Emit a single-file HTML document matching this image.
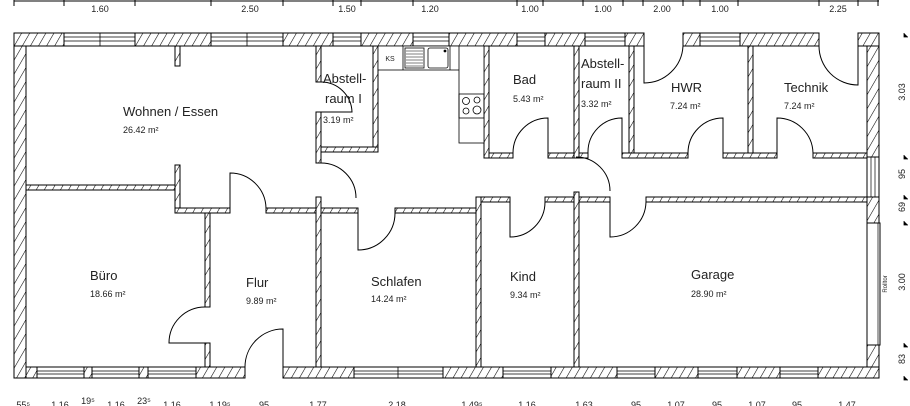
<!DOCTYPE html>
<html><head><meta charset="utf-8"><style>
html,body{margin:0;padding:0;background:#fff;}
svg{display:block;font-family:"Liberation Sans",Arial,sans-serif;}
.h{fill:url(#hat);stroke:#000;stroke-width:1;}
.w{fill:#fff;stroke:#000;stroke-width:1;}
.d{fill:none;stroke:#000;stroke-width:1;}
.t{font-size:13px;fill:#222;}
.a{font-size:9px;fill:#222;}
.s{font-size:9px;fill:#222;}
</style></head><body>
<svg width="910" height="406" viewBox="0 0 910 406" xmlns="http://www.w3.org/2000/svg">
<defs>
<pattern id="hat" patternUnits="userSpaceOnUse" width="7" height="7" patternTransform="rotate(30)">
<rect width="7" height="7" fill="#fff"/>
<line x1="0" y1="0" x2="0" y2="7" stroke="#000" stroke-width="1.1"/>
</pattern>
</defs>

<!-- top dimension line -->
<g stroke="#000" stroke-width="1">
<line x1="14" y1="1" x2="879" y2="1"/>
<line x1="14" y1="0" x2="14" y2="6"/><line x1="64" y1="0" x2="64" y2="6"/><line x1="135" y1="0" x2="135" y2="6"/><line x1="211" y1="0" x2="211" y2="6"/><line x1="283" y1="0" x2="283" y2="6"/><line x1="333" y1="0" x2="333" y2="6"/><line x1="361" y1="0" x2="361" y2="6"/><line x1="413" y1="0" x2="413" y2="6"/><line x1="517" y1="0" x2="517" y2="6"/><line x1="543" y1="0" x2="543" y2="6"/><line x1="583" y1="0" x2="583" y2="6"/><line x1="623" y1="0" x2="623" y2="6"/><line x1="643" y1="0" x2="643" y2="6"/><line x1="683" y1="0" x2="683" y2="6"/><line x1="700" y1="0" x2="700" y2="6"/><line x1="738" y1="0" x2="738" y2="6"/><line x1="819" y1="0" x2="819" y2="6"/><line x1="858" y1="0" x2="858" y2="6"/><line x1="878" y1="0" x2="878" y2="6"/>
</g>
<g class="s" text-anchor="middle">
<text x="100" y="12">1.60</text><text x="250" y="12">2.50</text><text x="347" y="12">1.50</text><text x="430" y="12">1.20</text><text x="530" y="12">1.00</text><text x="603" y="12">1.00</text><text x="662" y="12">2.00</text><text x="720" y="12">1.00</text><text x="838" y="12">2.25</text>
</g>

<!-- top wall -->
<rect class="h" x="14" y="33" width="50" height="13"/>
<rect class="h" x="135" y="33" width="76" height="13"/>
<rect class="h" x="283" y="33" width="50" height="13"/>
<rect class="h" x="361" y="33" width="52" height="13"/>
<rect class="h" x="449" y="33" width="68" height="13"/>
<rect class="h" x="545" y="33" width="40" height="13"/>
<rect class="h" x="625" y="33" width="19" height="13"/>
<rect class="h" x="683" y="33" width="17" height="13"/>
<rect class="h" x="740" y="33" width="79" height="13"/>
<rect class="h" x="858" y="33" width="21" height="13"/>
<g stroke="#000" stroke-width="0.8">
<rect class="w" x="64" y="33" width="71" height="13"/><line x1="64" y1="37" x2="135" y2="37"/><line x1="64" y1="41" x2="135" y2="41"/><line x1="100" y1="33" x2="100" y2="46"/>
<rect class="w" x="211" y="33" width="72" height="13"/><line x1="211" y1="37" x2="283" y2="37"/><line x1="211" y1="41" x2="283" y2="41"/><line x1="247" y1="33" x2="247" y2="46"/>
<rect class="w" x="333" y="33" width="28" height="13"/><line x1="333" y1="37" x2="361" y2="37"/><line x1="333" y1="41" x2="361" y2="41"/>
<rect class="w" x="413" y="33" width="36" height="13"/><line x1="413" y1="37" x2="449" y2="37"/><line x1="413" y1="41" x2="449" y2="41"/>
<rect class="w" x="517" y="33" width="28" height="13"/><line x1="517" y1="37" x2="545" y2="37"/><line x1="517" y1="41" x2="545" y2="41"/>
<rect class="w" x="585" y="33" width="40" height="13"/><line x1="585" y1="37" x2="625" y2="37"/><line x1="585" y1="41" x2="625" y2="41"/>
<rect class="w" x="700" y="33" width="40" height="13"/><line x1="700" y1="37" x2="740" y2="37"/><line x1="700" y1="41" x2="740" y2="41"/>
</g>

<!-- left & right walls -->
<rect class="h" x="14" y="46" width="12" height="332"/>
<rect class="h" x="867" y="46" width="12" height="111"/>
<rect class="w" x="867" y="157" width="12" height="40"/><line x1="871" y1="157" x2="871" y2="197" stroke="#000" stroke-width="0.7"/><line x1="875" y1="157" x2="875" y2="197" stroke="#000" stroke-width="0.7"/>
<rect class="h" x="867" y="197" width="12" height="26"/>
<rect class="w" x="867" y="223" width="13" height="122"/><line x1="878" y1="223" x2="878" y2="345" stroke="#000" stroke-width="0.7"/>
<rect class="h" x="867" y="345" width="12" height="33"/>
<text x="887" y="284" font-size="6" fill="#222" text-anchor="middle" transform="rotate(-90 887 284)">Rolltor</text>

<!-- bottom wall -->
<rect class="h" x="26" y="367" width="11" height="11"/>
<rect class="h" x="84" y="367" width="8" height="11"/>
<rect class="h" x="139" y="367" width="9" height="11"/>
<rect class="h" x="196" y="367" width="49" height="11"/>
<rect class="h" x="283" y="367" width="71" height="11"/>
<rect class="h" x="443" y="367" width="60" height="11"/>
<rect class="h" x="551" y="367" width="66" height="11"/>
<rect class="h" x="655" y="367" width="43" height="11"/>
<rect class="h" x="737" y="367" width="43" height="11"/>
<rect class="h" x="818" y="367" width="61" height="11"/>
<g stroke="#000" stroke-width="0.8">
<rect class="w" x="37" y="367" width="47" height="11"/><line x1="37" y1="371" x2="84" y2="371"/><line x1="37" y1="374" x2="84" y2="374"/>
<rect class="w" x="92" y="367" width="47" height="11"/><line x1="92" y1="371" x2="139" y2="371"/><line x1="92" y1="374" x2="139" y2="374"/>
<rect class="w" x="148" y="367" width="48" height="11"/><line x1="148" y1="371" x2="196" y2="371"/><line x1="148" y1="374" x2="196" y2="374"/>
<rect class="w" x="354" y="367" width="89" height="11"/><line x1="354" y1="371" x2="443" y2="371"/><line x1="354" y1="374" x2="443" y2="374"/><line x1="398" y1="367" x2="398" y2="378"/>
<rect class="w" x="503" y="367" width="48" height="11"/><line x1="503" y1="371" x2="551" y2="371"/><line x1="503" y1="374" x2="551" y2="374"/>
<rect class="w" x="617" y="367" width="38" height="11"/><line x1="617" y1="371" x2="655" y2="371"/><line x1="617" y1="374" x2="655" y2="374"/>
<rect class="w" x="698" y="367" width="39" height="11"/><line x1="698" y1="371" x2="737" y2="371"/><line x1="698" y1="374" x2="737" y2="374"/>
<rect class="w" x="780" y="367" width="38" height="11"/><line x1="780" y1="371" x2="818" y2="371"/><line x1="780" y1="374" x2="818" y2="374"/>
</g>

<!-- interior walls -->
<rect class="h" x="175" y="46" width="5" height="20"/>
<rect class="h" x="26" y="185" width="154" height="5"/>
<rect class="h" x="175" y="165" width="5" height="48"/>
<rect class="h" x="175" y="208" width="55" height="5"/>
<rect class="h" x="266" y="208" width="50" height="5"/>
<rect class="h" x="316" y="46" width="5" height="36"/>
<rect class="h" x="316" y="112" width="5" height="51"/>
<rect class="h" x="316" y="197" width="5" height="170"/>
<rect class="h" x="373" y="46" width="5" height="106"/>
<rect class="h" x="321" y="147" width="57" height="5"/>
<rect class="h" x="321" y="208" width="37" height="5"/>
<rect class="h" x="395" y="208" width="81" height="5"/>
<rect class="h" x="205" y="213" width="5" height="94"/>
<rect class="h" x="205" y="343" width="5" height="24"/>
<rect class="h" x="484" y="46" width="5" height="112"/>
<rect class="h" x="489" y="153" width="24" height="5"/>
<rect class="h" x="548" y="153" width="26" height="5"/>
<rect class="h" x="574" y="46" width="5" height="112"/>
<rect class="h" x="574" y="192" width="5" height="175"/>
<rect class="h" x="579" y="153" width="9" height="5"/>
<rect class="h" x="622" y="153" width="66" height="5"/>
<rect class="h" x="629" y="46" width="5" height="107"/>
<rect class="h" x="723" y="153" width="54" height="5"/>
<rect class="h" x="748" y="46" width="5" height="107"/>
<rect class="h" x="813" y="153" width="54" height="5"/>
<rect class="h" x="476" y="197" width="5" height="170"/>
<rect class="h" x="481" y="197" width="29" height="5"/>
<rect class="h" x="545" y="197" width="29" height="5"/>
<rect class="h" x="579" y="197" width="31" height="5"/>
<rect class="h" x="646" y="197" width="221" height="5"/>

<!-- kitchen -->
<g stroke="#000" stroke-width="0.8" fill="none">
<rect x="378" y="46" width="106" height="24" fill="#fff"/>
<rect x="459" y="46" width="25" height="97" fill="#fff"/>
<line x1="403" y1="46" x2="403" y2="70"/>
<rect x="405" y="48" width="19" height="20" fill="#fff"/>
<path d="M406,51H423M406,54H423M406,57H423M406,60H423M406,63H423M406,66H423" stroke-width="0.6"/>
<rect x="428" y="48" width="20" height="20" rx="2"/>
<circle cx="445" cy="51" r="1" fill="#000"/>
<line x1="450" y1="46" x2="450" y2="70"/>
<rect x="459" y="94" width="25" height="24"/>
<circle cx="466" cy="101" r="3.5"/><circle cx="477" cy="100" r="3"/><circle cx="466" cy="111" r="3"/><circle cx="477" cy="110" r="4"/>
</g>
<text x="390" y="61" font-size="7" fill="#222" text-anchor="middle">KS</text>

<!-- doors -->
<g class="d">
<path d="M321,82 A31,31 0 0 1 352,112 H321"/>
<path d="M321,163 A35,35 0 0 1 356,198"/>
<path d="M230,208 V173 A36,36 0 0 1 266,208"/>
<path d="M358,213 V250 A37,37 0 0 0 395,213"/>
<path d="M205,307 A36,36 0 0 0 169,343 H205"/>
<path d="M283,367 V329 A38,38 0 0 0 245,367"/>
<path d="M513,153 A35,35 0 0 1 548,118 V153"/>
<path d="M588,153 A34,34 0 0 1 622,118 V153"/>
<path d="M688,153 A35,35 0 0 1 723,118 V153"/>
<path d="M777,153 V118 A36,36 0 0 1 813,153"/>
<path d="M644,46 V83 A39,39 0 0 0 683,46"/>
<path d="M819,46 A39,39 0 0 0 858,85 V46"/>
<path d="M576,157 A34,34 0 0 1 610,191"/>
<path d="M510,202 V237 A35,35 0 0 0 545,202"/>
<path d="M610,202 V237 A36,36 0 0 0 646,202"/>
</g>

<!-- room labels -->
<text class="t" x="123" y="116">Wohnen / Essen</text><text class="a" x="123" y="133">26.42 m²</text>
<text class="t" x="323" y="83">Abstell-</text><text class="t" x="325" y="103">raum I</text><text class="a" x="323" y="123">3.19 m²</text>
<text class="t" x="513" y="84">Bad</text><text class="a" x="513" y="102">5.43 m²</text>
<text class="t" x="581" y="68">Abstell-</text><text class="t" x="581" y="88">raum II</text><text class="a" x="581" y="107">3.32 m²</text>
<text class="t" x="671" y="92">HWR</text><text class="a" x="670" y="109">7.24 m²</text>
<text class="t" x="784" y="92">Technik</text><text class="a" x="784" y="109">7.24 m²</text>
<text class="t" x="90" y="280">Büro</text><text class="a" x="90" y="297">18.66 m²</text>
<text class="t" x="246" y="287">Flur</text><text class="a" x="246" y="304">9.89 m²</text>
<text class="t" x="371" y="286">Schlafen</text><text class="a" x="371" y="302">14.24 m²</text>
<text class="t" x="510" y="281">Kind</text><text class="a" x="510" y="298">9.34 m²</text>
<text class="t" x="691" y="279">Garage</text><text class="a" x="691" y="297">28.90 m²</text>

<!-- bottom dims -->
<g class="s" text-anchor="middle">
<text x="22" y="408">.55⁵</text><text x="60" y="408">1.16</text><text x="88" y="404">19⁵</text><text x="116" y="408">1.16</text><text x="144" y="404">23⁵</text><text x="172" y="408">1.16</text><text x="220" y="408">1.19⁵</text><text x="264" y="408">95</text><text x="318" y="408">1.77</text><text x="397" y="408">2.18</text><text x="472" y="408">1.49⁵</text><text x="527" y="408">1.16</text><text x="584" y="408">1.63</text><text x="636" y="408">95</text><text x="676" y="408">1.07</text><text x="717" y="408">95</text><text x="757" y="408">1.07</text><text x="797" y="408">95</text><text x="847" y="408">1.47</text>
</g>

<!-- right dims -->
<g class="s" text-anchor="middle">
<text x="908" y="95" transform="rotate(-90 905 95)">3.03</text>
<text x="908" y="177" transform="rotate(-90 905 177)">95</text>
<text x="908" y="210" transform="rotate(-90 905 210)">69</text>
<text x="908" y="285" transform="rotate(-90 905 285)">3.00</text>
<text x="908" y="362" transform="rotate(-90 905 362)">83</text>
</g>
<g stroke="#000" stroke-width="0.8">
<path d="M904,33v4h4M904,155v4h4M904,195v4h4M904,221v4h4M904,343v4h4M904,376v4h4"/>
</g>
</svg>
</body></html>
